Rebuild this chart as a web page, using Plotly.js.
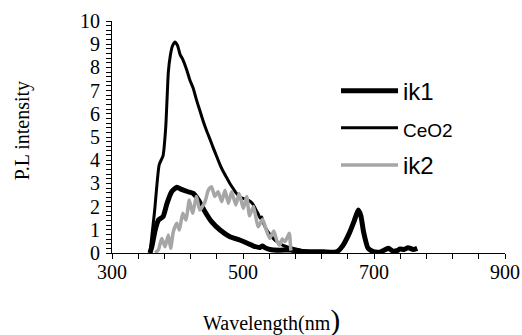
<!DOCTYPE html>
<html>
<head>
<meta charset="utf-8">
<script src="https://cdn.plot.ly/plotly-3.0.1.min.js"></script>
<style>html,body{margin:0;padding:0;background:#fff;}#chart{width:522px;height:335px;}</style>
</head>
<body>
<div id="chart"></div>
<script>
// ik1 (thick black)
var ik1X = [358, 361, 366, 371, 378, 384, 391, 399, 406, 416, 424, 432, 442, 452, 465, 480, 495, 510, 516, 526, 530, 534, 541, 556, 572, 590, 610, 623, 643, 652, 663, 670, 676, 680, 684, 691, 699, 710, 722, 729, 735, 740, 746, 752, 760, 766];
var ik1Y = [0, 0.3, 1.0, 1.42, 1.57, 2.14, 2.64, 2.83, 2.74, 2.64, 2.57, 2.28, 1.78, 1.35, 0.99, 0.70, 0.56, 0.38, 0.30, 0.24, 0.30, 0.22, 0.15, 0.12, 0.13, 0.06, 0.05, 0.05, 0.05, 0.3, 0.9, 1.4, 1.85, 1.6, 0.92, 0.2, 0.06, 0.05, 0.2, 0.08, 0.1, 0.17, 0.15, 0.23, 0.15, 0.2];

// CeO2 (thin black)
var ceX = [358, 365, 372, 378, 382, 384, 386, 389, 392, 396, 400, 404, 408, 414, 419, 424, 429, 434, 439, 444, 450, 455, 460, 465, 470, 475, 480, 485, 490, 495, 500, 508, 512, 516, 520, 523, 526, 528.5, 531, 536, 541, 546, 551, 556, 561, 567, 577, 587, 597, 612, 630, 645];
var ceY = [0, 1.8, 3.8, 4.2, 5.4, 6.6, 7.8, 8.5, 8.9, 9.1, 8.95, 8.55, 8.35, 7.9, 7.45, 7.1, 6.6, 6.15, 5.7, 5.3, 4.87, 4.5, 4.15, 3.8, 3.5, 3.25, 3.0, 2.78, 2.57, 2.43, 2.35, 2.28, 2.2, 2.07, 1.85, 1.7, 1.5, 1.55, 1.3, 1.0, 0.8, 0.63, 0.5, 0.42, 0.33, 0.27, 0.2, 0.13, 0.08, 0.05, 0.02, 0];

// ik2 (grey)
var ik2X = [366, 371, 376, 381, 386, 389.6, 393.6, 399, 402.8, 408, 413, 418, 423, 429, 434, 442, 447, 452, 457, 462, 467.5, 472.5, 477.6, 482.7, 489, 494, 500.5, 505.6, 510, 516, 523, 530, 536, 541, 547, 552, 556, 560, 564, 568, 570.7, 573];
var ik2Y = [0, 0.15, 0.63, 0.27, 0.78, 0.2, 0.92, 1.28, 0.99, 1.71, 1.42, 2.28, 1.71, 2.43, 1.85, 2.21, 2.71, 2.86, 2.43, 2.64, 2.21, 2.71, 2.14, 2.64, 2.07, 2.57, 1.92, 2.43, 1.6, 2.0, 1.13, 1.45, 0.95, 0.63, 0.95, 0.5, 0.34, 0.6, 0.49, 0.7, 0.85, 0.1];

// tick labels
var xTickVals = [300, 500, 700, 900];
var xTickLabels = ['300', '500', '700', '900'];
var yTickVals = [0, 1, 2, 3, 4, 5, 6, 7, 8, 9, 10];
var yTickLabels = ['0', '1', '2', '3', '4', '5', '6', '7', '8', '9', '10'];

var names = ['ik1', '<span style="font-size:19px">CeO2</span>', 'ik2'];
var xTitle = 'Wavelength(nm<span style="font-size:30px">)</span>';
var yTitle = 'P.L intensity';

var serif = 'Liberation Serif, DejaVu Serif, serif';
var sans = 'Liberation Sans, Arial, sans-serif';
var serifFont = {family: serif, size: 20, color: '#000'};

var traces = [
  {x: ik1X, y: ik1Y, name: names[0], legendgroup: 'a', mode: 'lines', line: {color: '#000', width: 5, shape: 'spline', smoothing: 0.5}},
  {x: ceX, y: ceY, name: names[1], legendgroup: 'b', mode: 'lines', line: {color: '#000', width: 3, shape: 'spline', smoothing: 0.5}},
  {x: ik2X, y: ik2Y, name: names[2], legendgroup: 'c', mode: 'lines', line: {color: '#a6a6a6', width: 3.5, shape: 'spline', smoothing: 0.5}}
];

var annotations = [
  {text: xTitle, xref: 'paper', yref: 'paper', x: 0.407, y: -0.29, xanchor: 'center', yanchor: 'middle', showarrow: false, font: serifFont},
  {text: yTitle, xref: 'paper', yref: 'paper', x: -0.229, y: 0.525, xanchor: 'center', yanchor: 'middle', textangle: -90, showarrow: false, font: serifFont}
];
xTickVals.forEach(function (v, i) {
  annotations.push({text: xTickLabels[i], xref: 'x', yref: 'paper', x: v, y: 0, yanchor: 'middle', xanchor: 'center', yshift: -19, showarrow: false, font: serifFont});
});
yTickVals.forEach(function (v, i) {
  annotations.push({text: yTickLabels[i], xref: 'paper', yref: 'y', x: 0, y: v, xanchor: 'right', yanchor: 'middle', xshift: -10, showarrow: false, font: serifFont});
});

var layout = {
  width: 522, height: 335,
  margin: {l: 112, r: 17, t: 21, b: 82},
  paper_bgcolor: '#fff', plot_bgcolor: '#fff',
  font: serifFont,
  showlegend: true,
  legend: {x: 0.57, y: 0.795, xanchor: 'left', yanchor: 'top', font: {family: sans, size: 24, color: '#000'}, itemwidth: 57, tracegroupgap: 3, bgcolor: 'rgba(0,0,0,0)', traceorder: 'grouped'},
  xaxis: {
    range: [300, 900], tickmode: 'linear', tick0: 300, dtick: 40, showticklabels: false,
    showgrid: false, zeroline: false,
    showline: true, linecolor: '#000', linewidth: 1,
    ticks: 'outside', ticklen: 5, tickcolor: '#000'
  },
  yaxis: {
    range: [0, 10], tickmode: 'linear', tick0: 0, dtick: 0.2, showticklabels: false,
    showgrid: false, zeroline: false,
    showline: true, linecolor: '#000', linewidth: 1,
    ticks: 'outside', ticklen: 5, tickcolor: '#000'
  },
  annotations: annotations
};

Plotly.newPlot('chart', traces, layout, {displayModeBar: false, staticPlot: true});
</script>
</body>
</html>
